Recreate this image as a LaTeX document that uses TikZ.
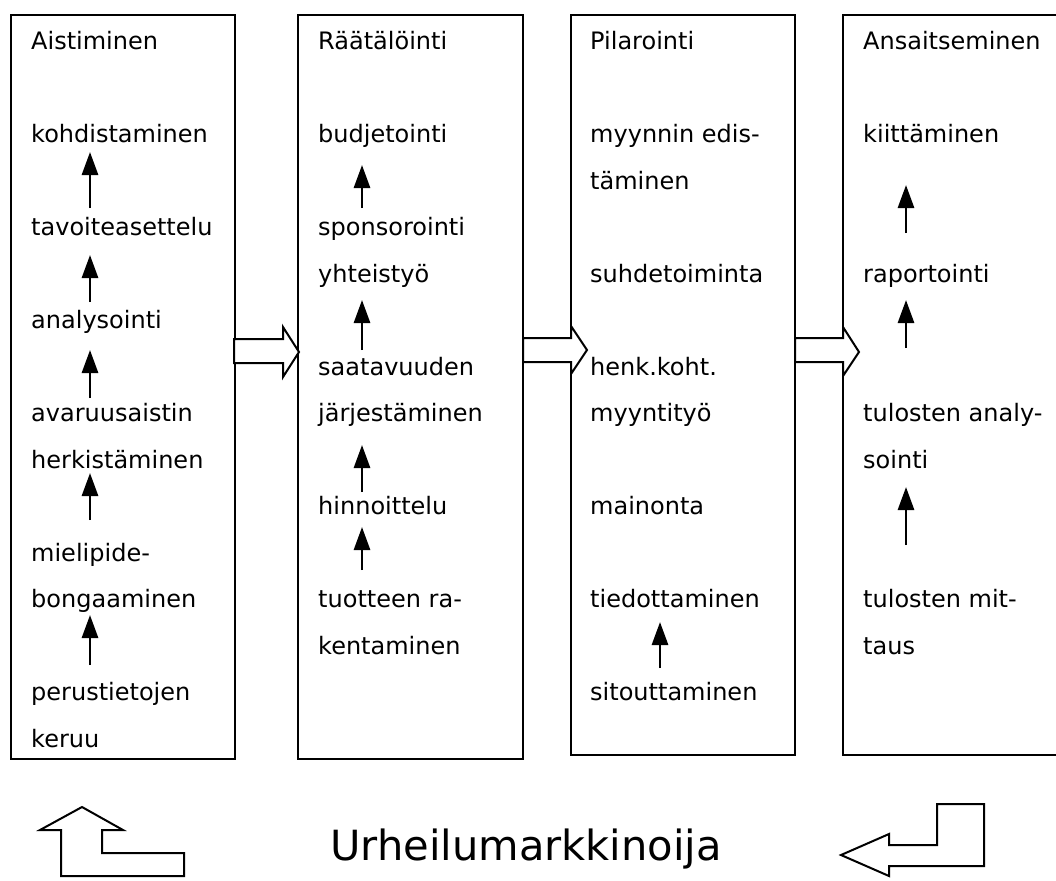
\documentclass[tikz,border=0pt]{standalone}
\usepackage{fontspec}
\setmainfont{DejaVu Sans}
\usetikzlibrary{arrows.meta}
\newcommand\itm[4]{\node[lbl] (#1) at (#2,{50+46.47*#3}) {#4};}
\newcommand\uarr[4]{\coordinate (#1s) at (#2,#3); \coordinate (#1e) at (#2,#4); \draw[uparr] (#1s) -- (#1e);}
\begin{document}
\begin{tikzpicture}[x=1pt,y=-1pt,
 box/.style={line width=2.4pt},
 lbl/.style={anchor=base west,inner sep=0pt,font=\fontsize{24}{28}\selectfont},
 uparr/.style={line width=2.8pt,-{Triangle[width=16pt,length=23pt]}},
 blockarr/.style={line width=2pt,fill=white,line join=miter}]
\clip (0,0) rectangle (1056,880);
\fill[white] (0,0) rectangle (1056,880);
% boxes
\draw[box] (11,15) rectangle (235,759);
\draw[box] (298,15) rectangle (523,759);
\draw[box] (571,15) rectangle (795,755);
\draw[box] (843,15) rectangle (1070,755);
% box 1
\itm{t10}{31}{0}{Aistiminen}
\itm{t11}{31}{2}{kohdistaminen}
\itm{t12}{31}{4}{tavoiteasettelu}
\itm{t13}{31}{6}{analysointi}
\itm{t14}{31}{8}{avaruusaistin}
\itm{t15}{31}{9}{herkistäminen}
\itm{t16}{31}{11}{mielipide-}
\itm{t17}{31}{12}{bongaaminen}
\itm{t18}{31}{14}{perustietojen}
\itm{t19}{31}{15}{keruu}
% box 2
\itm{t20}{318}{0}{Räätälöinti}
\itm{t21}{318}{2}{budjetointi}
\itm{t22}{318}{4}{sponsorointi}
\itm{t23}{318}{5}{yhteistyö}
\itm{t24}{318}{7}{saatavuuden}
\itm{t25}{318}{8}{järjestäminen}
\itm{t26}{318}{10}{hinnoittelu}
\itm{t27}{318}{12}{tuotteen ra-}
\itm{t28}{318}{13}{kentaminen}
% box 3
\itm{t30}{590}{0}{Pilarointi}
\itm{t31}{590}{2}{myynnin edis-}
\itm{t32}{590}{3}{täminen}
\itm{t33}{590}{5}{suhdetoiminta}
\itm{t34}{590}{7}{henk.koht.}
\itm{t35}{590}{8}{myyntityö}
\itm{t36}{590}{10}{mainonta}
\itm{t37}{590}{12}{tiedottaminen}
\itm{t38}{590}{14}{sitouttaminen}
% box 4
\itm{t40}{863}{0}{Ansaitseminen}
\itm{t41}{863}{2}{kiittäminen}
\itm{t42}{863}{5}{raportointi}
\itm{t43}{863}{8}{tulosten analy-}
\itm{t44}{863}{9}{sointi}
\itm{t45}{863}{12}{tulosten mit-}
\itm{t46}{863}{13}{taus}
% small up arrows
\uarr{a1}{90}{208}{152}
\uarr{a2}{90}{302}{255}
\uarr{a3}{90}{398}{350}
\uarr{a4}{90}{520}{473}
\uarr{a5}{90}{665}{615}
\uarr{b1}{362}{208}{165}
\uarr{b2}{362}{350}{300}
\uarr{b3}{362}{492}{445}
\uarr{b4}{362}{570}{527}
\uarr{c1}{660}{668}{622}
\uarr{d1}{906}{233}{185}
\uarr{d2}{906}{348}{300}
\uarr{d3}{906}{545}{487}
% block arrows between boxes
\draw[blockarr] (234,339) -- (283,339) -- (283,327) -- (299,352) -- (283,377) -- (283,363) -- (234,363) -- cycle;
\draw[blockarr] (523,338) -- (571,338) -- (571,326) -- (587,350) -- (571,374) -- (571,362) -- (523,362) -- cycle;
\draw[blockarr] (795,338) -- (843,338) -- (843,327) -- (859,352) -- (843,376) -- (843,362) -- (795,362) -- cycle;
% bottom arrows
\draw[blockarr] (82,807) -- (123,830) -- (102,830) -- (102,853) -- (184,853) -- (184,876) -- (61,876) -- (61,830) -- (40,830) -- cycle;
\draw[blockarr] (841,855) -- (889,834) -- (889,845) -- (937,845) -- (937,804) -- (984,804) -- (984,866) -- (889,866) -- (889,876) -- cycle;
\node[anchor=base west,inner sep=0pt,font=\fontsize{41.6}{50}\selectfont] (um) at (330,860) {Urheilumarkkinoija};
\end{tikzpicture}
\end{document}
